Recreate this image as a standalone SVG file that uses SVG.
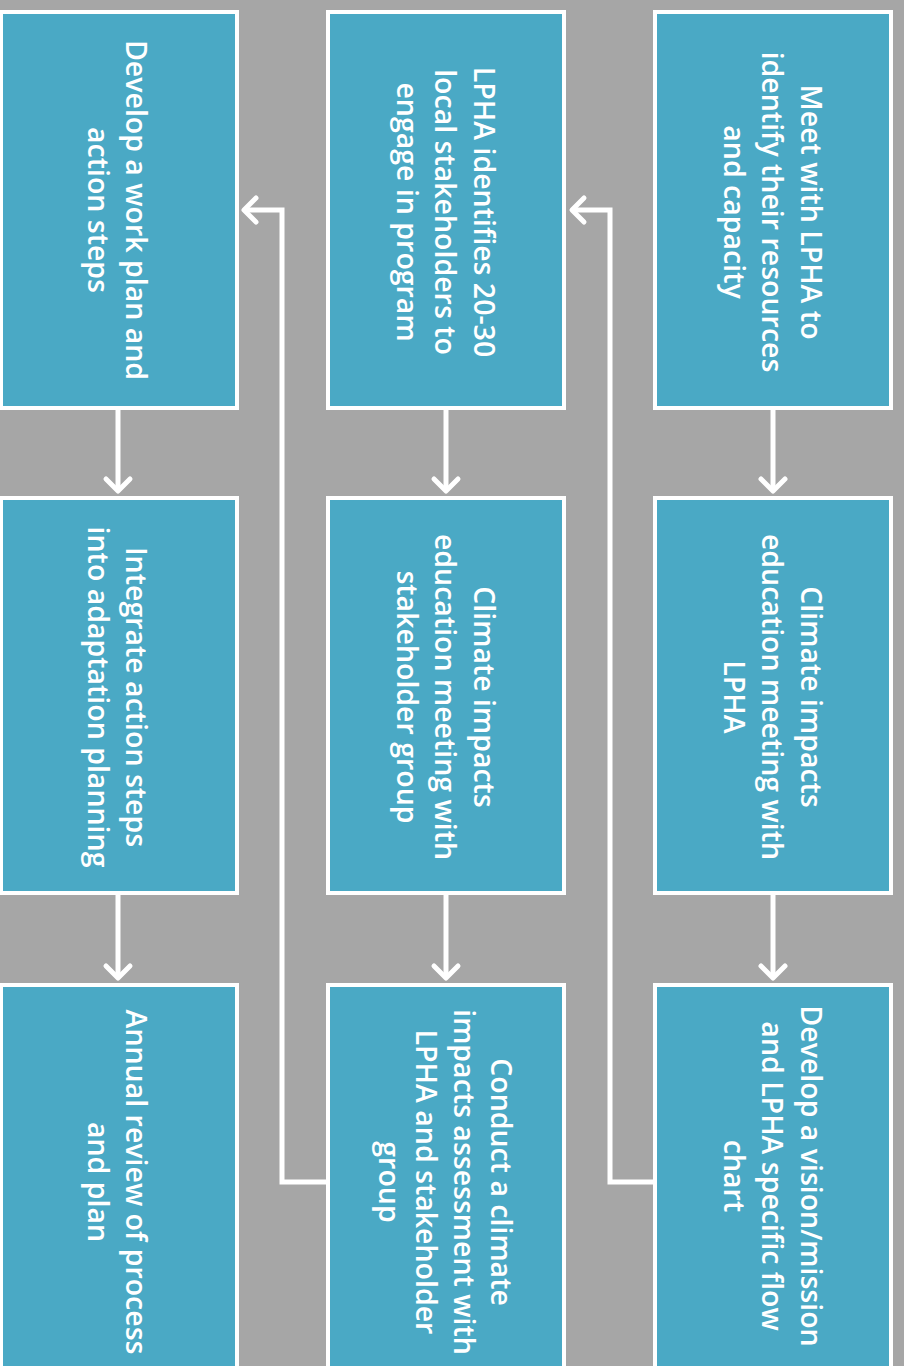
<svg xmlns="http://www.w3.org/2000/svg" width="904" height="1366" viewBox="0 0 904 1366">
<defs>
<style>
.box{fill:#4aa9c5;stroke:#ffffff;stroke-width:4}
.lbl{fill:#ffffff;font-family:"Open Sans","Liberation Sans",sans-serif;font-weight:600;font-size:28.5px;text-anchor:middle;dominant-baseline:central}
.con{fill:none;stroke:#ffffff;stroke-width:5}
</style>
<marker id="ah" markerUnits="userSpaceOnUse" markerWidth="30" markerHeight="30" refX="15" refY="15" orient="auto" overflow="visible">
<path d="M3,3 L15,15 L3,27" fill="none" stroke="#ffffff" stroke-width="5" stroke-linecap="round" stroke-linejoin="round"/>
</marker>
</defs>
<rect width="904" height="1366" fill="#a6a6a6"/>
<g id="connectors">
<path class="con" d="M773,408 V491" marker-end="url(#ah)"/>
<path class="con" d="M773,893 V978" marker-end="url(#ah)"/>
<path class="con" d="M446,408 V491" marker-end="url(#ah)"/>
<path class="con" d="M446,893 V978" marker-end="url(#ah)"/>
<path class="con" d="M118,408 V491" marker-end="url(#ah)"/>
<path class="con" d="M118,893 V978" marker-end="url(#ah)"/>
<path class="con" d="M655,1182 H610 V210 H572" marker-end="url(#ah)"/>
<path class="con" d="M328,1182 H282 V210 H244" marker-end="url(#ah)"/>
</g>
<g id="n1"><rect class="box" x="655" y="12" width="236" height="396"/>
<text class="lbl" transform="translate(773,212) rotate(90)"><tspan x="0" y="-38.5">Meet with LPHA to</tspan><tspan x="0" y="0">identify their resources</tspan><tspan x="0" y="38.5">and capacity</tspan></text></g>
<g id="n2"><rect class="box" x="655" y="498" width="236" height="395"/>
<text class="lbl" transform="translate(773,697) rotate(90)"><tspan x="0" y="-38.5">Climate impacts</tspan><tspan x="0" y="0">education meeting with</tspan><tspan x="0" y="38.5">LPHA</tspan></text></g>
<g id="n3"><rect class="box" x="655" y="985" width="236" height="395"/>
<text class="lbl" transform="translate(773,1176) rotate(90)"><tspan x="0" y="-38.5">Develop a vision/mission</tspan><tspan x="0" y="0">and LPHA specific flow</tspan><tspan x="0" y="38.5">chart</tspan></text></g>
<g id="n4"><rect class="box" x="328" y="12" width="236" height="396"/>
<text class="lbl" transform="translate(446,212) rotate(90)"><tspan x="0" y="-38.5">LPHA identifies 20-30</tspan><tspan x="0" y="0">local stakeholders to</tspan><tspan x="0" y="38.5">engage in program</tspan></text></g>
<g id="n5"><rect class="box" x="328" y="498" width="236" height="395"/>
<text class="lbl" transform="translate(446,697) rotate(90)"><tspan x="0" y="-38.5">Climate impacts</tspan><tspan x="0" y="0">education meeting with</tspan><tspan x="0" y="38.5">stakeholder group</tspan></text></g>
<g id="n6"><rect class="box" x="328" y="985" width="236" height="395"/>
<text class="lbl" transform="translate(446,1182) rotate(90)"><tspan x="0" y="-56">Conduct a climate</tspan><tspan x="0" y="-19">impacts assessment with</tspan><tspan x="0" y="19">LPHA and stakeholder</tspan><tspan x="0" y="56">group</tspan></text></g>
<g id="n7"><rect class="box" x="1" y="12" width="236" height="396"/>
<text class="lbl" transform="translate(118,210) rotate(90)"><tspan x="0" y="-19">Develop a work plan and</tspan><tspan x="0" y="19">action steps</tspan></text></g>
<g id="n8"><rect class="box" x="1" y="498" width="236" height="395"/>
<text class="lbl" transform="translate(118,697) rotate(90)"><tspan x="0" y="-19">Integrate action steps</tspan><tspan x="0" y="19">into adaptation planning</tspan></text></g>
<g id="n9"><rect class="box" x="1" y="985" width="236" height="395"/>
<text class="lbl" transform="translate(118,1182) rotate(90)"><tspan x="0" y="-19">Annual review of process</tspan><tspan x="0" y="19">and plan</tspan></text></g>
</svg>
